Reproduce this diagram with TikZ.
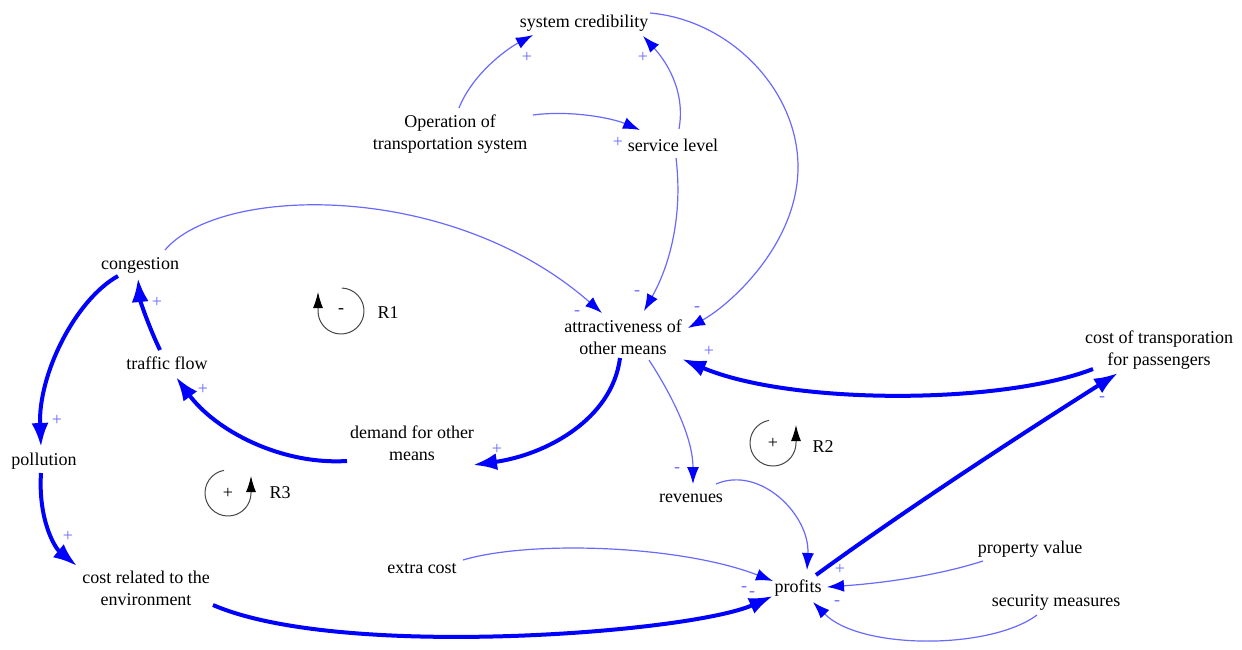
\documentclass[tikz,border=0pt]{standalone}
\usepackage{fontspec}
\setmainfont{Liberation Serif}
\usetikzlibrary{arrows.meta,calc}
\definecolor{lnkblue}{RGB}{0,0,255}
\definecolor{lnklight}{RGB}{105,105,255}
\definecolor{loopgrey}{RGB}{70,70,70}
\tikzset{
	var_n/.style = {align=center, inner sep=0pt, font=\fontsize{9}{11}\selectfont},
	sgn/.style = {inner sep=0pt, text=lnklight, font=\fontsize{9}{10}\selectfont},
	lnk_w/.style = {draw=lnklight, line width=0.6pt, -{Latex[length=8.5pt,width=6pt,color=lnkblue]}},
	lnk_s/.style = {draw=lnkblue, line width=2pt, -{Latex[length=12pt,width=8.5pt]}},
	loop_c/.style = {draw=loopgrey, line width=0.5pt, -{Latex[length=8pt,width=5pt,color=black]}},
	loop_l/.style = {var_n}
}

\begin{document}
\begin{tikzpicture}[x=0.5pt,y=-0.5pt]
	\useasboundingbox (0,0) rectangle (1242,649);
	\node [var_n] (cred) at (584,23) {system credibility};
	\node [var_n] (op) at (450,134) {Operation of\\transportation system};
	\node [var_n] (serv) at (673,145) {service level};
	\node [var_n] (cong) at (140,265) {congestion};
	\node [var_n] (attr) at (623,337) {attractiveness of\\other means};
	\node [var_n] (ctp) at (1159,350) {cost of transporation\\for passengers};
	\node [var_n] (traf) at (167,363) {traffic flow};
	\node [var_n] (dem) at (412,443) {demand for other\\means};
	\node [var_n] (poll) at (44,461) {pollution};
	\node [var_n] (rev) at (691,498) {revenues};
	\node [var_n] (cenv) at (146,588) {cost related to the\\environment};
	\node [var_n] (xc) at (422,569) {extra cost};
	\node [var_n] (prof) at (798,588) {profits};
	\node [var_n] (prop) at (1030,549) {property value};
	\node [var_n] (sec) at (1056,602) {security measures};

	\draw [lnk_w] ($(op)+(9,-26)$) .. controls (472,75) and (505,50) .. ($(cred)+(-51,12)$);
	\draw [lnk_w] ($(op)+(83,-19)$) .. controls (570,110) and (612,118) .. ($(serv)+(-33,-15)$);
	\draw [lnk_w] ($(serv)+(6,-16)$) .. controls (686,90) and (665,60) .. ($(cred)+(59,13)$);
	\draw [lnk_w] ($(cred)+(66,-10)$) .. controls (730,20) and (798,90) .. (798,167)
		.. controls (798,244) and (730,305) .. ($(attr)+(65,-9)$);
	\draw [lnk_w] ($(serv)+(3,13)$) .. controls (683,215) and (670,265) .. ($(attr)+(21,-26)$);
	\draw [lnk_w] ($(cong)+(25,-15)$) .. controls (220,185) and (450,180) .. ($(attr)+(-21,-24)$);
	\draw [lnk_s] ($(traf)+(-7,-13)$) .. controls (148,325) and (140,300) .. ($(cong)+(-2,13)$);
	\draw [lnk_s] ($(dem)+(-65,18)$) .. controls (280,465) and (215,430) .. ($(traf)+(9,14)$);
	\draw [lnk_s] ($(attr)+(-3,21)$) .. controls (612,420) and (545,455) .. ($(dem)+(61,22)$);
	\draw [lnk_s] ($(ctp)+(-66,19)$) .. controls (1000,405) and (790,405) .. ($(attr)+(59,22)$);
	\draw [lnk_s] ($(prof)+(18,-13)$) .. controls (905,510) and (1020,435) .. ($(ctp)+(-41,23)$);
	\draw [lnk_s] ($(cong)+(-22,11)$) .. controls (75,300) and (38,375) .. ($(poll)+(-3,-14)$);
	\draw [lnk_s] ($(poll)+(-3,12)$) .. controls (38,520) and (55,548) .. ($(cenv)+(-69,-22)$);
	\draw [lnk_s] ($(cenv)+(67,17)$) .. controls (340,660) and (690,633) .. ($(prof)+(-25,8)$);
	\draw [lnk_w] ($(attr)+(26,23)$) .. controls (675,400) and (693,440) .. ($(rev)+(2,-14)$);
	\draw [lnk_w] ($(xc)+(41,-9)$) .. controls (530,540) and (680,545) .. ($(prof)+(-25,-7)$);
	\draw [lnk_w] ($(rev)+(25,-14)$) .. controls (760,465) and (810,515) .. ($(prof)+(9,-18)$);
	\draw [lnk_w] ($(prop)+(-47,12)$) .. controls (930,578) and (870,584) .. ($(prof)+(29,-1)$);
	\draw [lnk_w] ($(sec)+(-19,13)$) .. controls (990,650) and (860,650) .. ($(prof)+(15,14)$);

	\node [sgn] (sg1) at (527,57) {+};
	\node [sgn] (sg2) at (643,57) {+};
	\node [sgn] (sg3) at (618,142) {+};
	\node [sgn] (sg4) at (697,309) {-};
	\node [sgn] (sg5) at (637,293) {-};
	\node [sgn] (sg6) at (577,313) {-};
	\node [sgn] (sg7) at (709,351) {+};
	\node [sgn] (sg8) at (157,302) {+};
	\node [sgn] (sg9) at (203,389) {+};
	\node [sgn] (sg10) at (497,449) {+};
	\node [sgn] (sg11) at (677,470) {-};
	\node [sgn] (sg12) at (1102,399) {-};
	\node [sgn] (sg13) at (57,420) {+};
	\node [sgn] (sg14) at (68,536) {+};
	\node [sgn] (sg15) at (744,589) {-};
	\node [sgn] (sg16) at (752,594) {-};
	\node [sgn] (sg17) at (840,569) {+};
	\node [sgn] (sg18) at (837,603) {-};

	\coordinate (lr1) at (341,311);
	\coordinate (lr2) at (773,443);
	\coordinate (lr3) at (228,493);
	\draw [loop_c] ([shift={(88:11.5pt)}]lr1) arc [start angle=88, end angle=-180, radius=11.5pt] -- ++(0,-19);
	\draw [loop_c] ([shift={(100:11.5pt)}]lr2) arc [start angle=100, end angle=360, radius=11.5pt] -- ++(0,-18);
	\draw [loop_c] ([shift={(100:11.5pt)}]lr3) arc [start angle=100, end angle=360, radius=11.5pt] -- ++(0,-17);
	\node [var_n] (in1) at (lr1) {-};
	\node [var_n] (in2) at (lr2) {+};
	\node [var_n] (in3) at (lr3) {+};
	\node [loop_l] (r1) at (388,313) {R1};
	\node [loop_l] (r2) at (823,447) {R2};
	\node [loop_l] (r3) at (280,493) {R3};
\end{tikzpicture}
\end{document}
